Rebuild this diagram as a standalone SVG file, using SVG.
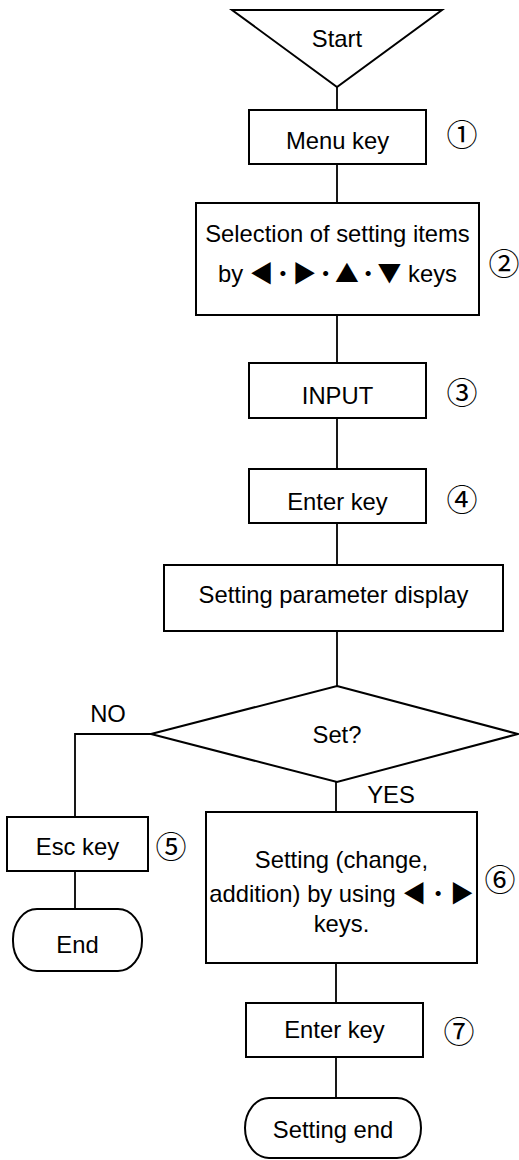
<svg xmlns="http://www.w3.org/2000/svg" width="519" height="1160" viewBox="0 0 519 1160">
<style>
.s{fill:#fff;stroke:#000;stroke-width:2}
.c{fill:none;stroke:#000;stroke-width:1.8}
.t{font-family:"Liberation Sans",Arial,sans-serif;font-size:23.8px;text-anchor:middle;fill:#000}
.n{font-family:"Noto Sans CJK JP","DejaVu Sans",sans-serif;font-size:31px;text-anchor:middle;fill:#000}
.a{font-family:"Noto Sans CJK JP","DejaVu Sans",sans-serif}
</style>
<g id="connectors">
<path class="c" d="M337 87V110M337 164V203M337 315V363M337 418V469M337 523V565M337 631V686M336 782V812M336 963V1003M336 1057V1098M151 734H75V817M75 871V909"/>
</g>
<g id="start"><polygon class="s" points="232,10 442,10 337,87"/><text class="t" x="337" y="47" font-size="22">Start</text></g>
<g id="menu"><rect class="s" x="249" y="110" width="177" height="54"/><text class="t" x="337.5" y="149">Menu key</text><text class="n" x="462" y="146">①</text></g>
<g id="select"><rect class="s" x="196" y="203" width="283" height="112"/><text class="t" x="337.5" y="242">Selection of setting items</text><text class="t" x="337.5" y="282">by <tspan class="a" letter-spacing="-2.5">◀・▶・▲・▼</tspan><tspan dx="2.5"> keys</tspan></text><text class="n" x="504" y="275">②</text></g>
<g id="input"><rect class="s" x="249" y="363" width="177" height="55"/><text class="t" x="337.5" y="404">INPUT</text><text class="n" x="462" y="404">③</text></g>
<g id="enter1"><rect class="s" x="249" y="469" width="177" height="54"/><text class="t" x="337.5" y="510">Enter key</text><text class="n" x="462" y="511">④</text></g>
<g id="display"><rect class="s" x="164" y="565" width="339" height="66"/><text class="t" x="333.5" y="603">Setting parameter display</text></g>
<g id="decision"><polygon class="s" points="337,686 518,734 337,782 151,734"/><text class="t" x="337" y="743">Set?</text><text class="t" x="108" y="722" font-size="22">NO</text><text class="t" x="391" y="803" font-size="22">YES</text></g>
<g id="esc"><rect class="s" x="7" y="817" width="141" height="54"/><text class="t" x="77.5" y="855">Esc key</text><text class="n" x="171" y="858">⑤</text></g>
<g id="end"><rect class="s" x="13" y="909" width="129" height="62" rx="24" ry="30"/><text class="t" x="77.5" y="953">End</text></g>
<g id="setting"><rect class="s" x="206" y="812" width="271" height="151"/><text class="t" x="341.5" y="868">Setting (change,</text><text class="t" x="341.5" y="902">addition) by using <tspan class="a">◀・▶</tspan></text><text class="t" x="341.5" y="932">keys.</text><text class="n" x="500" y="891">⑥</text></g>
<g id="enter2"><rect class="s" x="246" y="1003" width="177" height="54"/><text class="t" x="334.5" y="1038">Enter key</text><text class="n" x="459" y="1043">⑦</text></g>
<g id="settingend"><rect class="s" x="245" y="1098" width="176" height="60" rx="24" ry="30"/><text class="t" x="333" y="1138">Setting end</text></g>
</svg>
